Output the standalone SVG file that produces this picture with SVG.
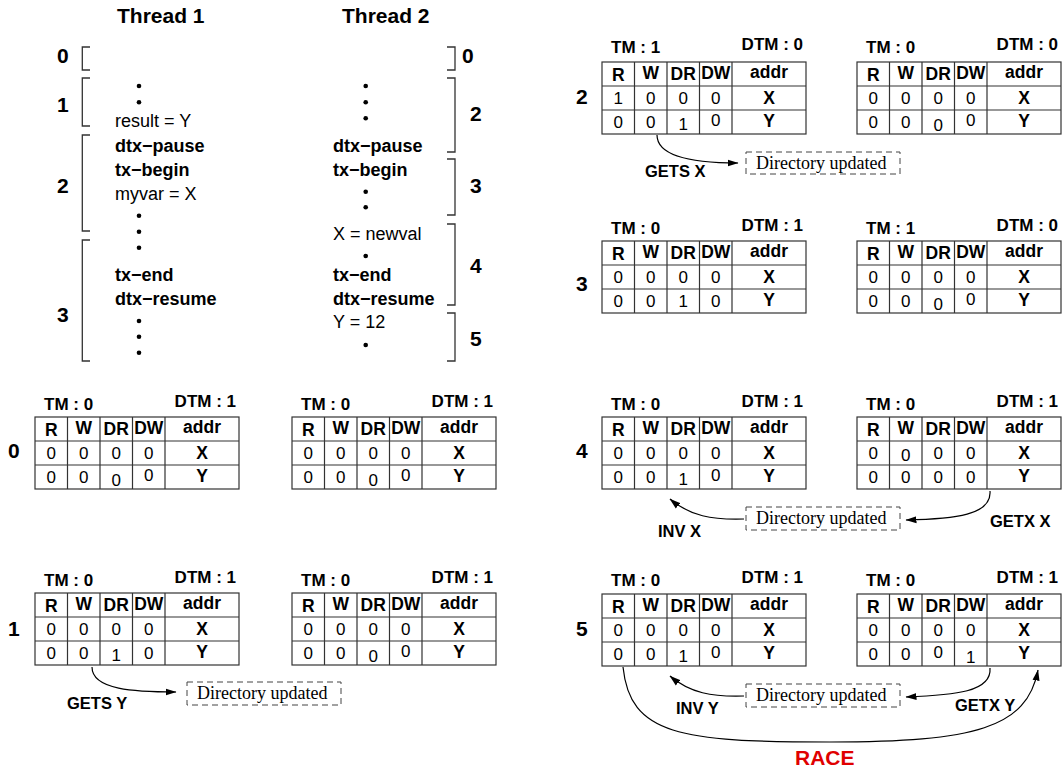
<svg xmlns="http://www.w3.org/2000/svg" xmlns:xlink="http://www.w3.org/1999/xlink" width="1063" height="772" viewBox="0 0 1063 772">
  <style>
    text { font-family: "Liberation Sans", Arial, sans-serif; fill: #000; }
    .big { font-size: 21px; font-weight: bold; }
    .code { font-size: 18px; }
    .kw { font-size: 18px; font-weight: bold; }
    .lbl { font-size: 17px; font-weight: bold; }
    .hd { font-size: 17.5px; font-weight: bold; text-anchor: middle; }
    .v { font-size: 17px; text-anchor: middle; }
    .a { font-size: 17.5px; font-weight: bold; text-anchor: middle; }
    .msg { font-size: 16.5px; font-weight: bold; }
    .dir { font-family: "Liberation Serif", "Times New Roman", serif; font-size: 18px; }
    .race { font-size: 21px; font-weight: bold; fill: #e00000; }
    .grid { fill: none; stroke: #333; stroke-width: 1.2; }
    .brk { fill: none; stroke: #333; stroke-width: 1.3; }
    .dbox { fill: none; stroke: #444; stroke-width: 1; stroke-dasharray: 6 4; }
    .arr { fill: none; stroke: #000; stroke-width: 1.2; marker-end: url(#head); }
    .dot { fill: #000; }
  </style>
  <defs>
    <marker id="head" markerUnits="userSpaceOnUse" markerWidth="11" markerHeight="8" refX="10.5" refY="4" orient="auto">
      <path d="M0,0.5 L11,4 L0,7.5 z" fill="#000"/>
    </marker>
    <!-- 5-column state table frame: R | W | DR | DW | addr -->
    <g id="grid">
      <rect class="grid" x="0" y="0" width="204" height="72"/>
      <path class="grid" d="M32.5,0V72 M65,0V72 M97.5,0V72 M130,0V72 M0,24H204 M0,48H204"/>
      <text class="hd" x="16.25" y="18.5">R</text>
      <text class="hd" x="48.75" y="17">W</text>
      <text class="hd" x="81.25" y="18">DR</text>
      <text class="hd" x="113.75" y="17">DW</text>
      <text class="hd" x="167" y="16">addr</text>
      <text class="a" x="167" y="42">X</text>
      <text class="a" x="167" y="65">Y</text>
    </g>
  </defs>

  <!-- thread headings -->
  <text class="big" x="117" y="23">Thread 1</text>
  <text class="big" x="342" y="23">Thread 2</text>

  <!-- thread 1 code with phase brackets -->
  <g id="thread1">
    <path class="brk" d="M90,47H82.3V70H90 M90,78H82.3V126H90 M90,135H82.3V231H90 M90,240H82.3V361H90"/>
    <text class="big" x="57" y="62.5">0</text>
    <text class="big" x="57" y="111.5">1</text>
    <text class="big" x="57" y="192.5">2</text>
    <text class="big" x="57" y="321.5">3</text>
    <circle class="dot" cx="139" cy="86" r="2.3"/>
    <circle class="dot" cx="139" cy="102.3" r="2.3"/>
    <text class="code" x="115" y="127">result = Y</text>
    <text class="kw" x="115" y="151.5">dtx−pause</text>
    <text class="kw" x="115" y="175.5">tx−begin</text>
    <text class="code" x="115" y="199.5">myvar = X</text>
    <circle class="dot" cx="139" cy="215.7" r="2.3"/>
    <circle class="dot" cx="139" cy="231.7" r="2.3"/>
    <circle class="dot" cx="139" cy="247.7" r="2.3"/>
    <text class="kw" x="115" y="281">tx−end</text>
    <text class="kw" x="115" y="305">dtx−resume</text>
    <circle class="dot" cx="139" cy="321" r="2.3"/>
    <circle class="dot" cx="139" cy="336.7" r="2.3"/>
    <circle class="dot" cx="139" cy="352.7" r="2.3"/>
  </g>

  <!-- thread 2 code with phase brackets -->
  <g id="thread2">
    <path class="brk" d="M447,47H455V70H447 M447,78H455V152H447 M447,159H455V215H447 M447,224H455V305H447 M447,313H455V361H447"/>
    <text class="big" x="462" y="62.5">0</text>
    <text class="big" x="470" y="120.5">2</text>
    <text class="big" x="470" y="192.5">3</text>
    <text class="big" x="470" y="272.5">4</text>
    <text class="big" x="470" y="345.5">5</text>
    <circle class="dot" cx="365.7" cy="86" r="2.3"/>
    <circle class="dot" cx="365.7" cy="102.3" r="2.3"/>
    <circle class="dot" cx="365.7" cy="118.3" r="2.3"/>
    <text class="kw" x="333" y="151.5">dtx−pause</text>
    <text class="kw" x="333" y="175.5">tx−begin</text>
    <circle class="dot" cx="365.7" cy="191.7" r="2.3"/>
    <circle class="dot" cx="365.7" cy="207.3" r="2.3"/>
    <text class="code" x="333" y="240">X = newval</text>
    <circle class="dot" cx="365.7" cy="256" r="2.3"/>
    <text class="kw" x="333" y="281">tx−end</text>
    <text class="kw" x="333" y="305">dtx−resume</text>
    <text class="code" x="333" y="328">Y = 12</text>
    <circle class="dot" cx="365.7" cy="345" r="2.3"/>
  </g>

  <!-- step numbers for the table pairs -->
  <text class="big" x="8" y="458">0</text>
  <text class="big" x="8" y="636">1</text>
  <text class="big" x="576" y="104">2</text>
  <text class="big" x="576" y="291">3</text>
  <text class="big" x="576" y="458">4</text>
  <text class="big" x="576" y="636">5</text>

  <!-- step 0 -->
  <g id="t0a" transform="translate(35,417)">
    <use xlink:href="#grid"/>
    <text class="lbl" x="9" y="-7">TM : 0</text>
    <text class="lbl" x="201" y="-10" text-anchor="end">DTM : 1</text>
    <text class="v" x="16.25" y="42">0</text><text class="v" x="48.75" y="42">0</text><text class="v" x="81.25" y="42">0</text><text class="v" x="113.75" y="42">0</text>
    <text class="v" x="16.25" y="66">0</text><text class="v" x="48.75" y="66">0</text><text class="v" x="81.25" y="69">0</text><text class="v" x="113.75" y="64">0</text>
  </g>
  <g id="t0b" transform="translate(292,417)">
    <use xlink:href="#grid"/>
    <text class="lbl" x="9" y="-7">TM : 0</text>
    <text class="lbl" x="201" y="-10" text-anchor="end">DTM : 1</text>
    <text class="v" x="16.25" y="42">0</text><text class="v" x="48.75" y="42">0</text><text class="v" x="81.25" y="42">0</text><text class="v" x="113.75" y="42">0</text>
    <text class="v" x="16.25" y="66">0</text><text class="v" x="48.75" y="66">0</text><text class="v" x="81.25" y="69">0</text><text class="v" x="113.75" y="64">0</text>
  </g>

  <!-- step 1 -->
  <g id="t1a" transform="translate(35,593)">
    <use xlink:href="#grid"/>
    <text class="lbl" x="9" y="-7">TM : 0</text>
    <text class="lbl" x="201" y="-10" text-anchor="end">DTM : 1</text>
    <text class="v" x="16.25" y="42">0</text><text class="v" x="48.75" y="42">0</text><text class="v" x="81.25" y="42">0</text><text class="v" x="113.75" y="42">0</text>
    <text class="v" x="16.25" y="66">0</text><text class="v" x="48.75" y="66">0</text><text class="v" x="81.25" y="68">1</text><text class="v" x="113.75" y="66">0</text>
  </g>
  <g id="t1b" transform="translate(292,593)">
    <use xlink:href="#grid"/>
    <text class="lbl" x="9" y="-7">TM : 0</text>
    <text class="lbl" x="201" y="-10" text-anchor="end">DTM : 1</text>
    <text class="v" x="16.25" y="42">0</text><text class="v" x="48.75" y="42">0</text><text class="v" x="81.25" y="42">0</text><text class="v" x="113.75" y="42">0</text>
    <text class="v" x="16.25" y="66">0</text><text class="v" x="48.75" y="66">0</text><text class="v" x="81.25" y="69">0</text><text class="v" x="113.75" y="64">0</text>
  </g>

  <!-- step 2 -->
  <g id="t2a" transform="translate(602,62)">
    <use xlink:href="#grid"/>
    <text class="lbl" x="9" y="-9">TM : 1</text>
    <text class="lbl" x="201" y="-12" text-anchor="end">DTM : 0</text>
    <text class="v" x="16.25" y="42">1</text><text class="v" x="48.75" y="42">0</text><text class="v" x="81.25" y="42">0</text><text class="v" x="113.75" y="42">0</text>
    <text class="v" x="16.25" y="66">0</text><text class="v" x="48.75" y="66">0</text><text class="v" x="81.25" y="68">1</text><text class="v" x="113.75" y="64">0</text>
  </g>
  <g id="t2b" transform="translate(857,62)">
    <use xlink:href="#grid"/>
    <text class="lbl" x="9" y="-9">TM : 0</text>
    <text class="lbl" x="201" y="-12" text-anchor="end">DTM : 0</text>
    <text class="v" x="16.25" y="42">0</text><text class="v" x="48.75" y="42">0</text><text class="v" x="81.25" y="42">0</text><text class="v" x="113.75" y="42">0</text>
    <text class="v" x="16.25" y="66">0</text><text class="v" x="48.75" y="66">0</text><text class="v" x="81.25" y="69">0</text><text class="v" x="113.75" y="64">0</text>
  </g>

  <!-- step 3 -->
  <g id="t3a" transform="translate(602,241)">
    <use xlink:href="#grid"/>
    <text class="lbl" x="9" y="-7">TM : 0</text>
    <text class="lbl" x="201" y="-10" text-anchor="end">DTM : 1</text>
    <text class="v" x="16.25" y="42">0</text><text class="v" x="48.75" y="42">0</text><text class="v" x="81.25" y="42">0</text><text class="v" x="113.75" y="42">0</text>
    <text class="v" x="16.25" y="66">0</text><text class="v" x="48.75" y="66">0</text><text class="v" x="81.25" y="66">1</text><text class="v" x="113.75" y="66">0</text>
  </g>
  <g id="t3b" transform="translate(857,241)">
    <use xlink:href="#grid"/>
    <text class="lbl" x="9" y="-7">TM : 1</text>
    <text class="lbl" x="201" y="-10" text-anchor="end">DTM : 0</text>
    <text class="v" x="16.25" y="42">0</text><text class="v" x="48.75" y="42">0</text><text class="v" x="81.25" y="42">0</text><text class="v" x="113.75" y="42">0</text>
    <text class="v" x="16.25" y="66">0</text><text class="v" x="48.75" y="66">0</text><text class="v" x="81.25" y="69">0</text><text class="v" x="113.75" y="64">0</text>
  </g>

  <!-- step 4 -->
  <g id="t4a" transform="translate(602,417)">
    <use xlink:href="#grid"/>
    <text class="lbl" x="9" y="-7">TM : 0</text>
    <text class="lbl" x="201" y="-10" text-anchor="end">DTM : 1</text>
    <text class="v" x="16.25" y="42">0</text><text class="v" x="48.75" y="42">0</text><text class="v" x="81.25" y="42">0</text><text class="v" x="113.75" y="42">0</text>
    <text class="v" x="16.25" y="66">0</text><text class="v" x="48.75" y="66">0</text><text class="v" x="81.25" y="68">1</text><text class="v" x="113.75" y="64">0</text>
  </g>
  <g id="t4b" transform="translate(857,417)">
    <use xlink:href="#grid"/>
    <text class="lbl" x="9" y="-7">TM : 0</text>
    <text class="lbl" x="201" y="-10" text-anchor="end">DTM : 1</text>
    <text class="v" x="16.25" y="42">0</text><text class="v" x="48.75" y="44">0</text><text class="v" x="81.25" y="42">0</text><text class="v" x="113.75" y="42">0</text>
    <text class="v" x="16.25" y="66">0</text><text class="v" x="48.75" y="66">0</text><text class="v" x="81.25" y="66">0</text><text class="v" x="113.75" y="66">0</text>
  </g>

  <!-- step 5 -->
  <g id="t5a" transform="translate(602,594)">
    <use xlink:href="#grid"/>
    <text class="lbl" x="9" y="-8">TM : 0</text>
    <text class="lbl" x="201" y="-11" text-anchor="end">DTM : 1</text>
    <text class="v" x="16.25" y="42">0</text><text class="v" x="48.75" y="42">0</text><text class="v" x="81.25" y="42">0</text><text class="v" x="113.75" y="42">0</text>
    <text class="v" x="16.25" y="66">0</text><text class="v" x="48.75" y="66">0</text><text class="v" x="81.25" y="68">1</text><text class="v" x="113.75" y="64">0</text>
  </g>
  <g id="t5b" transform="translate(857,594)">
    <use xlink:href="#grid"/>
    <text class="lbl" x="9" y="-8">TM : 0</text>
    <text class="lbl" x="201" y="-11" text-anchor="end">DTM : 1</text>
    <text class="v" x="16.25" y="42">0</text><text class="v" x="48.75" y="42">0</text><text class="v" x="81.25" y="42">0</text><text class="v" x="113.75" y="42">0</text>
    <text class="v" x="16.25" y="66">0</text><text class="v" x="48.75" y="66">0</text><text class="v" x="81.25" y="64">0</text><text class="v" x="113.75" y="69">1</text>
  </g>

  <!-- directory notices -->
  <g id="dir1">
    <rect class="dbox" x="187" y="682" width="154" height="23"/>
    <text class="dir" x="197" y="699">Directory updated</text>
  </g>
  <g id="dir2">
    <rect class="dbox" x="746" y="152" width="154" height="22"/>
    <text class="dir" x="756" y="168.5">Directory updated</text>
  </g>
  <g id="dir4">
    <rect class="dbox" x="746" y="507" width="154" height="23"/>
    <text class="dir" x="756" y="524">Directory updated</text>
  </g>
  <g id="dir5">
    <rect class="dbox" x="746" y="684" width="154" height="23"/>
    <text class="dir" x="756" y="701">Directory updated</text>
  </g>

  <!-- coherence messages -->
  <g id="connectors">
    <path class="arr" d="M92,667 C92,690 135,692 176,692"/>
    <path class="arr" d="M657,135 C657,159 700,163 738,163"/>
    <path class="arr" d="M744,519 C712,520 690,516 670,499"/>
    <path class="arr" d="M990,491 C992,515 955,519 906,520"/>
    <path class="arr" d="M744,696 C712,697 690,693 670,676"/>
    <path class="arr" d="M990,668 C992,692 955,695 906,697"/>
    <path class="arr" d="M623,667 C630,735 680,742 830,742 C975,742 1027,728 1038,670"/>
    <text class="msg" x="67" y="709">GETS Y</text>
    <text class="msg" x="645" y="177">GETS X</text>
    <text class="msg" x="658" y="537">INV X</text>
    <text class="msg" x="990" y="527">GETX X</text>
    <text class="msg" x="676" y="714">INV Y</text>
    <text class="msg" x="955" y="711">GETX Y</text>
    <text class="race" x="795" y="765">RACE</text>
  </g>
</svg>
